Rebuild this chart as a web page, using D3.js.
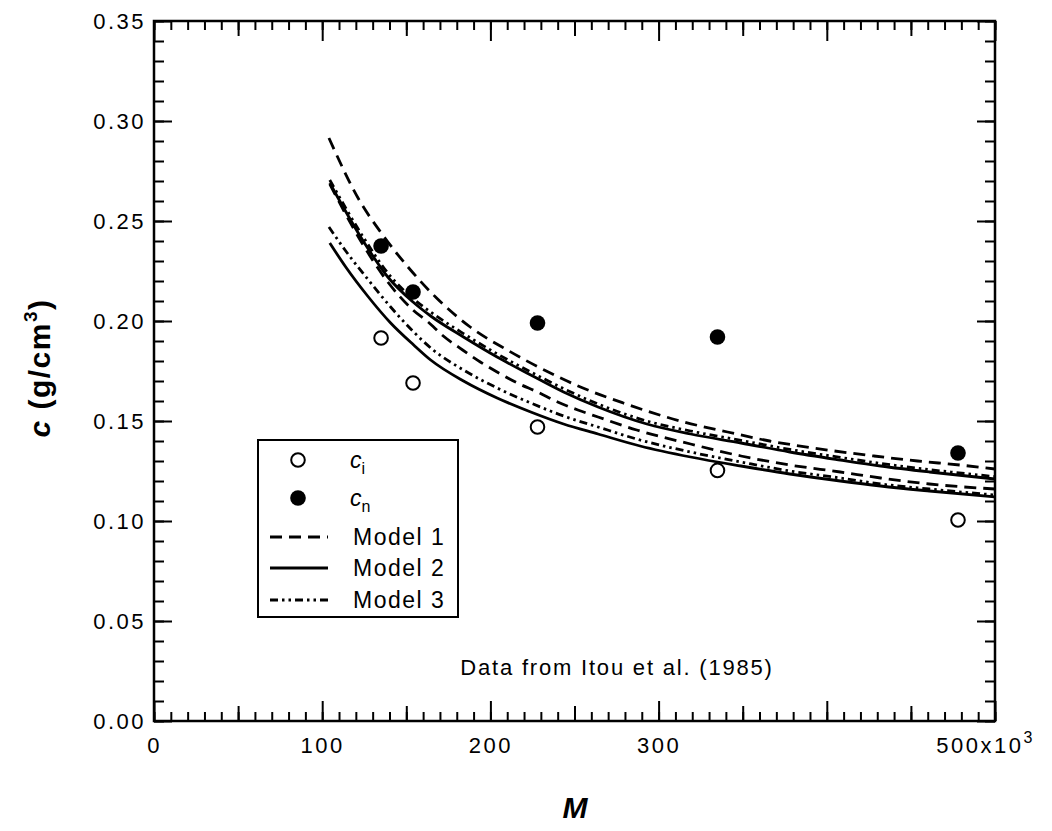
<!DOCTYPE html>
<html>
<head>
<meta charset="utf-8">
<script src="https://cdn.jsdelivr.net/npm/d3@7"></script>
<style>
body { margin: 0; background: #fff; }
text { font-family: "Liberation Sans", Arial, sans-serif; fill: #000; }
</style>
</head>
<body>
<script>
// canvas size
var w = 1052;
var h = 831;

// measured points (M in 10^3, c in g/cm3)
var ciM = [135, 154, 228, 335, 478];
var ciC = [0.1915, 0.169, 0.147, 0.1253, 0.1005];
var cnM = [135, 154, 228, 335, 478];
var cnC = [0.2375, 0.2145, 0.199, 0.192, 0.134];

// model curves, [M, c]
var model1Upper = [[104,0.2915],[122,0.2605],[136,0.243],[151,0.227],[168,0.2115],[188,0.197],[210,0.1855],[232,0.1755],[255,0.1665],[279,0.159],[315,0.1495],[341,0.1445],[366,0.14],[392,0.1365],[428,0.1325],[454,0.13],[479,0.128],[500,0.126]];
var model2Upper = [[104.5,0.269],[124,0.2405],[139,0.222],[154,0.2095],[164.5,0.2025],[184,0.192],[204,0.182],[224,0.173],[243.5,0.1645],[264,0.157],[293,0.1485],[319,0.1435],[349,0.139],[378,0.1345],[408,0.1305],[432,0.1275],[461,0.1245],[500,0.121]];
var model3Upper = [[104.5,0.2705],[124,0.2425],[139,0.224],[154,0.2112],[165,0.2042],[184,0.1937],[204,0.1836],[224,0.1745],[244,0.166],[264,0.1585],[293,0.15],[319,0.145],[349,0.1403],[378,0.1358],[408,0.1318],[432,0.1288],[461,0.1257],[500,0.1222]];
var model1Lower = [[104.5,0.2685],[124,0.2385],[139,0.2195],[154,0.2055],[163,0.1995],[172,0.1925],[183.5,0.1855],[194,0.1795],[205,0.174],[216,0.169],[228,0.1645],[240,0.1595],[252,0.1555],[264,0.152],[287,0.1455],[319,0.1385],[349,0.1325],[378,0.128],[408,0.1245],[432,0.1215],[461,0.1185],[500,0.116]];
var model2Lower = [[104.5,0.239],[114,0.227],[127,0.2125],[140.7,0.199],[154.4,0.188],[164.5,0.1805],[184,0.17],[204,0.1615],[224,0.1545],[243.5,0.1485],[264,0.1435],[289,0.1375],[319,0.132],[349,0.1275],[378,0.1235],[408,0.12],[432,0.1175],[461,0.115],[500,0.112]];
var model3Lower = [[104,0.247],[114,0.235],[127,0.221],[140.7,0.207],[154.4,0.1945],[166,0.1855],[184,0.1755],[204,0.1665],[224,0.159],[243.5,0.1525],[264,0.147],[289,0.1405],[319,0.1345],[349,0.1295],[378,0.125],[408,0.1215],[432,0.1185],[461,0.116],[500,0.113]];

// tick values
var xMajor = [0, 100, 200, 300, 400, 500];
var xLabels = ["0", "100", "200", "300", "", "500x10"];
var yMajor = [0, 0.05, 0.10, 0.15, 0.20, 0.25, 0.30, 0.35];

// plot edges
var padL = 154, padR = 995, padT = 21, padB = 721;

var svg = d3.select("body").append("svg")
    .attr("width", w)
    .attr("height", h);

var x = d3.scaleLinear().domain([0, 500]).range([padL, padR]);
var y = d3.scaleLinear().domain([0, 0.35]).range([padB, padT]);

// helper to add a tick-only axis
function tickAxis(axis, tx, ty) {
    var g = svg.append("g")
        .attr("transform", "translate(" + tx + "," + ty + ")")
        .call(axis);
    g.select(".domain").remove();
    g.selectAll("line").attr("stroke", "#000").attr("stroke-width", 2);
    return g;
}

// bottom and top ticks
[[d3.axisBottom, padB], [d3.axisTop, padT]].forEach(function(p) {
    tickAxis(p[0](x).tickValues(d3.range(0, 501, 10)).tickSize(-9).tickFormat(""), 0, p[1]);
    tickAxis(p[0](x).tickValues(d3.range(50, 501, 100)).tickSize(-15).tickFormat(""), 0, p[1]);
});
tickAxis(d3.axisTop(x).tickValues(xMajor).tickSize(-20).tickFormat(""), 0, padT);
var xg = tickAxis(d3.axisBottom(x).tickValues(xMajor).tickSize(-20).tickPadding(16)
    .tickFormat(function(d, i) { return xLabels[i]; }), 0, padB);
xg.selectAll("text")
    .attr("font-size", 22)
    .attr("letter-spacing", 2.5)
    .attr("font-family", "Liberation Sans, Arial, sans-serif");
xg.selectAll(".tick").filter(function(d) { return d === 500; }).select("text")
    .attr("dx", -10)
    .append("tspan").attr("dy", -10).attr("font-size", 16).text("3");

// left and right ticks
[[d3.axisLeft, padL], [d3.axisRight, padR]].forEach(function(p) {
    tickAxis(p[0](y).tickValues(d3.range(0, 36, 1).map(function(v) { return v / 100; })).tickSize(-10).tickFormat(""), p[1], 0);
});
tickAxis(d3.axisRight(y).tickValues(yMajor).tickSize(-18).tickFormat(""), padR, 0);
var yg = tickAxis(d3.axisLeft(y).tickValues(yMajor).tickSize(-18).tickPadding(8)
    .tickFormat(d3.format(".2f")), padL, 0);
yg.selectAll("text")
    .attr("font-size", 22)
    .attr("letter-spacing", 2.5)
    .attr("font-family", "Liberation Sans, Arial, sans-serif");

// frame
svg.append("rect")
    .attr("x", padL).attr("y", padT)
    .attr("width", padR - padL).attr("height", padB - padT)
    .attr("fill", "none").attr("stroke", "#000").attr("stroke-width", 2.5);

// model curves
var line = d3.line()
    .x(function(d) { return x(d[0]); })
    .y(function(d) { return y(d[1]); })
    .curve(d3.curveMonotoneX);

var dashed = "12,7";
var dashDot = "8,4,2.5,4,2.5,4";
var curves = [
    [model1Upper, dashed], [model1Lower, dashed],
    [model2Upper, null], [model2Lower, null],
    [model3Upper, dashDot], [model3Lower, dashDot]
];
curves.forEach(function(c) {
    svg.append("path")
        .attr("d", line(c[0]))
        .attr("fill", "none")
        .attr("stroke", "#000")
        .attr("stroke-width", 2.8)
        .attr("stroke-dasharray", c[1]);
});

// data points
svg.selectAll(".ci")
    .data(ciM)
    .enter()
    .append("circle")
    .attr("cx", function(d) { return x(d); })
    .attr("cy", function(d, i) { return y(ciC[i]); })
    .attr("r", 6.8)
    .attr("fill", "#fff")
    .attr("stroke", "#000")
    .attr("stroke-width", 2);

svg.selectAll(".cn")
    .data(cnM)
    .enter()
    .append("circle")
    .attr("cx", function(d) { return x(d); })
    .attr("cy", function(d, i) { return y(cnC[i]); })
    .attr("r", 7.8)
    .attr("fill", "#000");

// legend
var lg = svg.append("g");
lg.append("rect")
    .attr("x", 258).attr("y", 440)
    .attr("width", 200).attr("height", 177)
    .attr("fill", "#fff").attr("stroke", "#000").attr("stroke-width", 2);
lg.append("circle").attr("cx", 298).attr("cy", 460).attr("r", 6.8)
    .attr("fill", "#fff").attr("stroke", "#000").attr("stroke-width", 2);
lg.append("circle").attr("cx", 298).attr("cy", 498).attr("r", 7.8).attr("fill", "#000");

var t1 = lg.append("text").attr("x", 350).attr("y", 468).attr("font-size", 23);
t1.append("tspan").attr("font-style", "italic").text("c");
t1.append("tspan").attr("font-size", 16).attr("dy", 6).text("i");
var t2 = lg.append("text").attr("x", 350).attr("y", 506).attr("font-size", 23);
t2.append("tspan").attr("font-style", "italic").text("c");
t2.append("tspan").attr("font-size", 16).attr("dy", 6).text("n");

var legendRows = [["Model 1", dashed, 537], ["Model 2", null, 568], ["Model 3", dashDot, 600]];
legendRows.forEach(function(r) {
    lg.append("line")
        .attr("x1", 270).attr("x2", 328)
        .attr("y1", r[2]).attr("y2", r[2])
        .attr("stroke", "#000").attr("stroke-width", 2.8)
        .attr("stroke-dasharray", r[1]);
    lg.append("text")
        .attr("x", 353).attr("y", r[2] + 8)
        .attr("font-size", 23)
        .attr("letter-spacing", 1.5)
        .text(r[0]);
});

// annotation
svg.append("text")
    .attr("x", 617).attr("y", 675)
    .attr("text-anchor", "middle")
    .attr("font-size", 22)
    .attr("letter-spacing", 1.8)
    .text("Data from Itou et al. (1985)");

// axis titles
var yt = svg.append("text")
    .attr("transform", "translate(50,368) rotate(-90)")
    .attr("text-anchor", "middle")
    .attr("font-size", 30)
    .attr("letter-spacing", 1.5)
    .attr("font-weight", "bold");
yt.append("tspan").attr("font-style", "italic").text("c");
yt.append("tspan").text("  (g/cm");
yt.append("tspan").attr("font-size", 19).attr("dy", -13).text("3");
yt.append("tspan").attr("dy", 13).text(")");

svg.append("text")
    .attr("x", 575).attr("y", 818)
    .attr("text-anchor", "middle")
    .attr("font-size", 30)
    .attr("font-weight", "bold")
    .attr("font-style", "italic")
    .text("M");
</script>
</body>
</html>
